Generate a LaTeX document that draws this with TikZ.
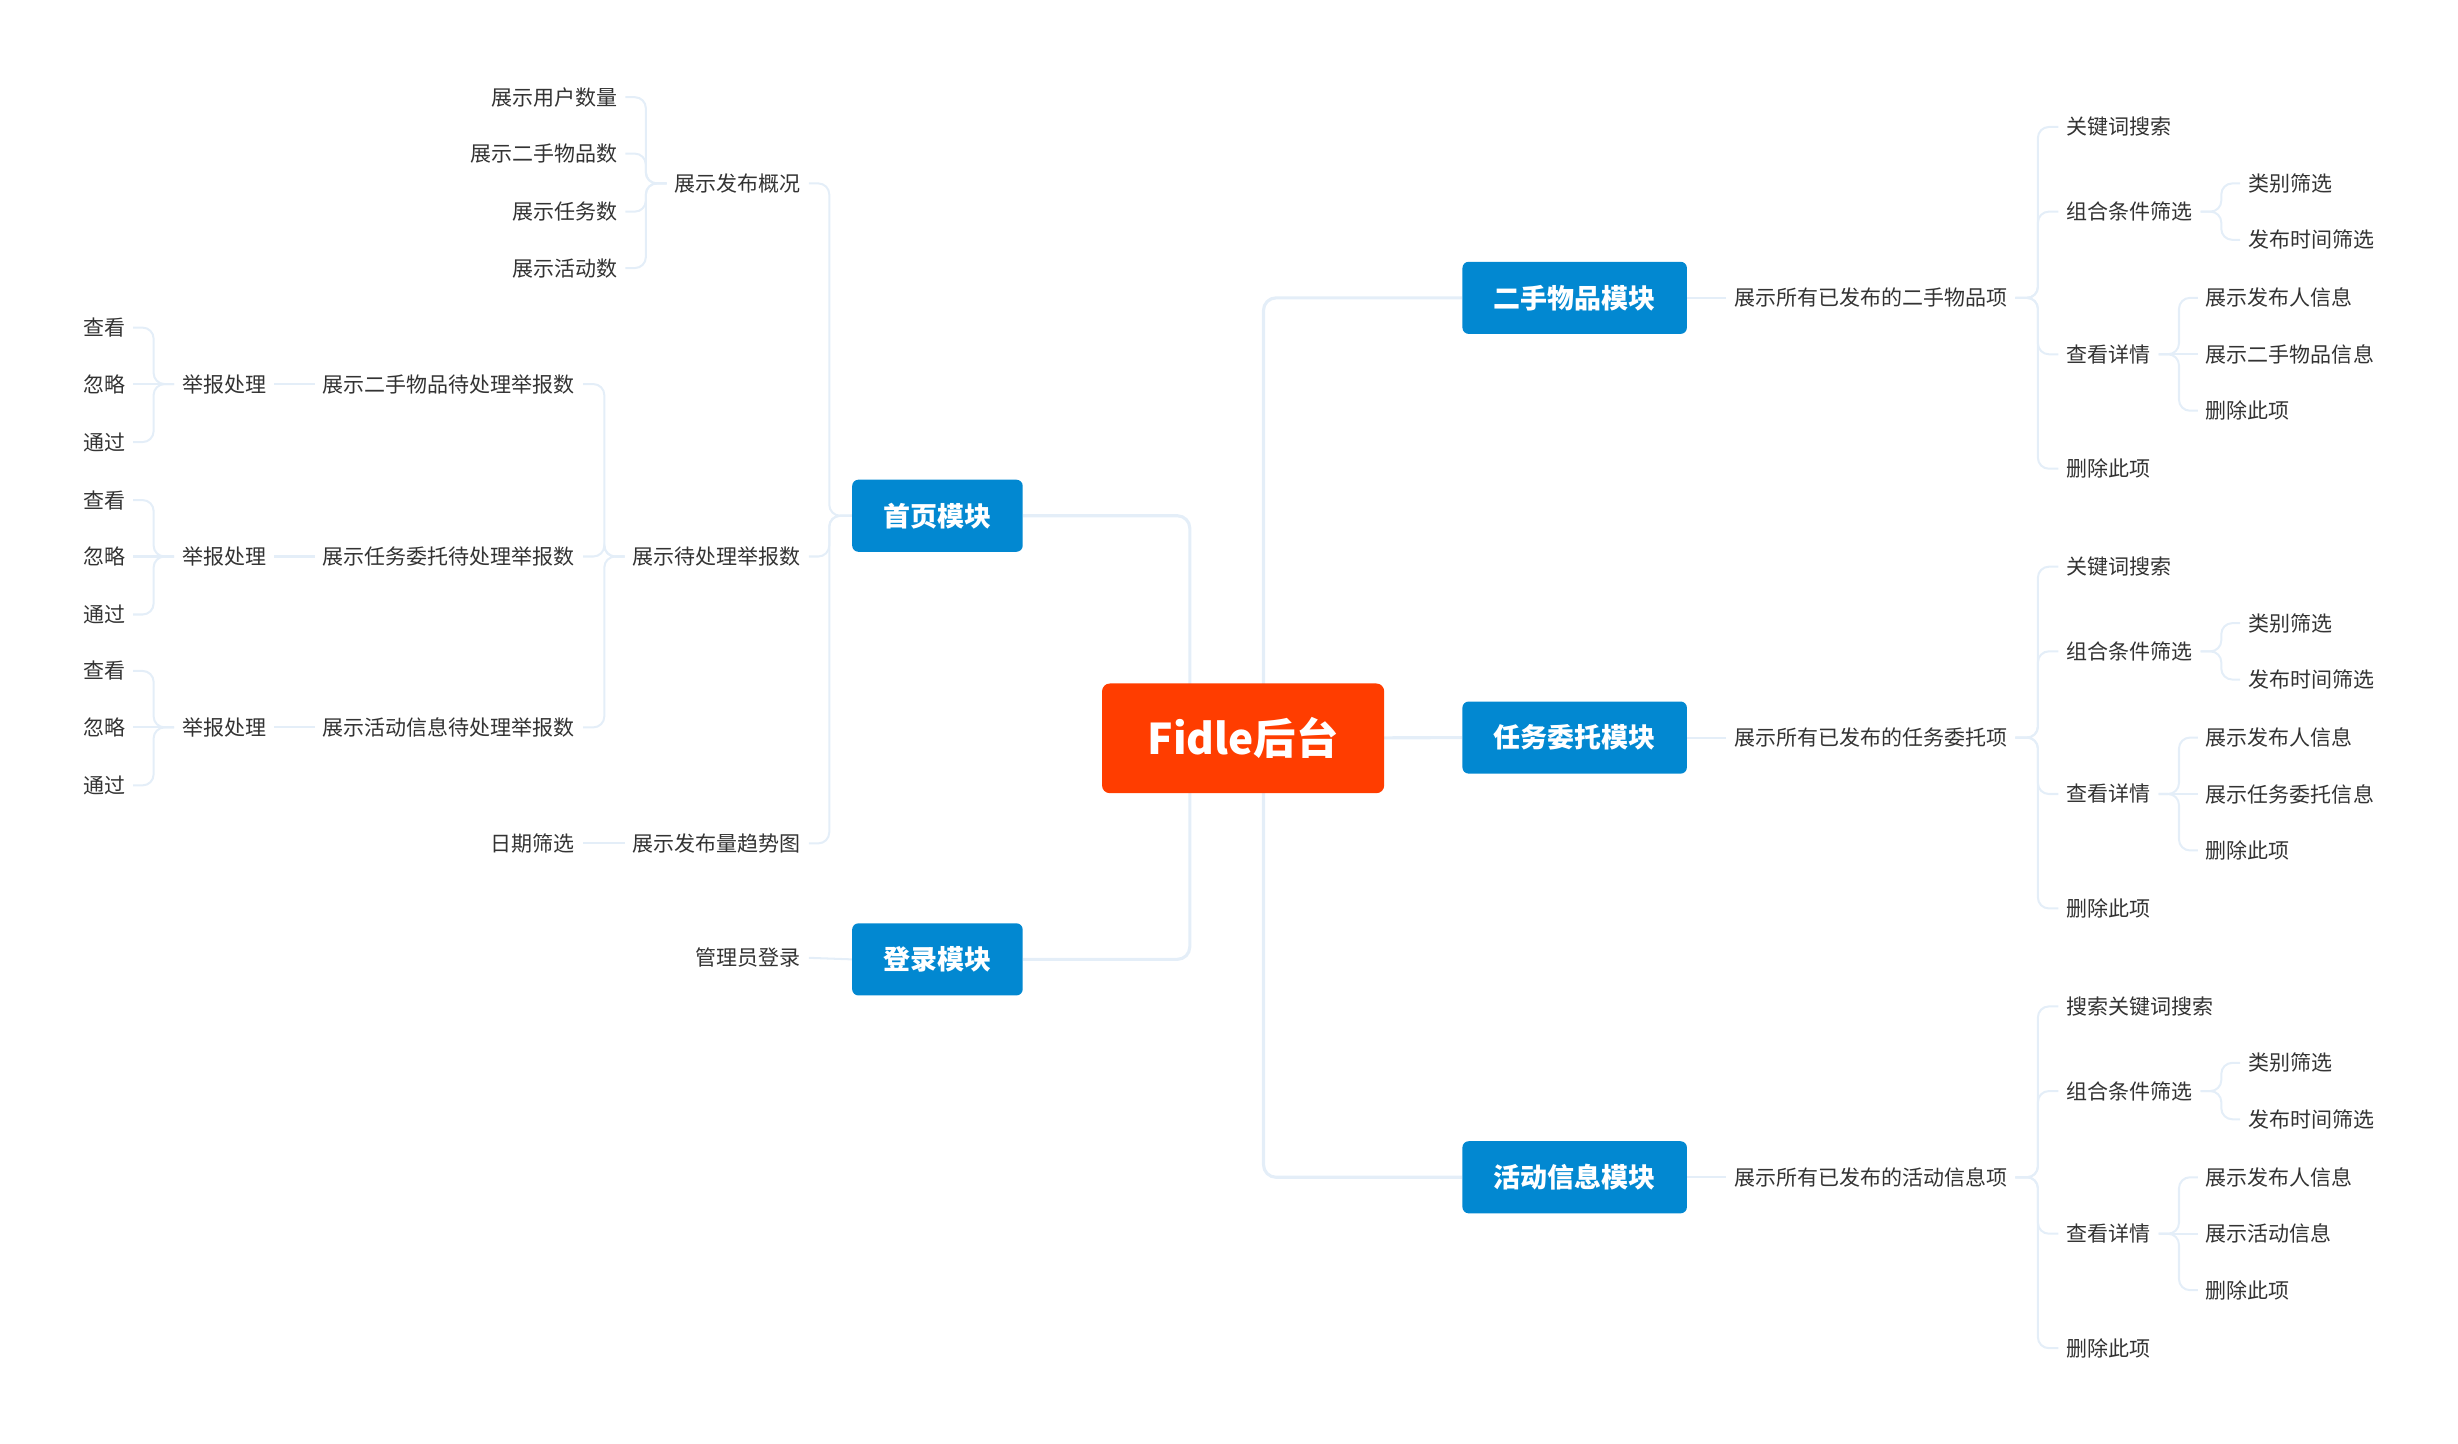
\documentclass[tikz,border=0pt]{standalone}
\usepackage{fontspec}
\setmainfont{Noto Sans CJK SC}
\usetikzlibrary{calc}
\pgfdeclarelayer{bg}
\pgfsetlayers{bg,main}
\definecolor{rootc}{HTML}{FF3D00}
\definecolor{modc}{HTML}{0288D1}
\definecolor{linec}{HTML}{E4EEF8}
\definecolor{txtc}{HTML}{333333}
\tikzset{
 lbl/.style={inner xsep=5pt, inner ysep=2pt, text=txtc, font=\fontsize{13.4}{16}\selectfont},
 lw/.style={lbl, anchor=west},
 le/.style={lbl, anchor=east},
 modbox/.style={fill=modc, rounded corners=4pt, text=white, font=\fontsize{17.2}{20}\selectfont\bfseries, inner xsep=20pt, minimum height=46pt},
 rootbox/.style={fill=rootc, rounded corners=5pt, text=white, font=\fontsize{27}{30}\selectfont\bfseries, minimum width=180pt, minimum height=70pt},
 mainlink/.style={draw=linec, line width=2pt, rounded corners=8pt},
 sublink/.style={draw=linec, line width=1.3pt, rounded corners=7pt},
}
\newcommand\rblock[5]{%
 \node[lw] (#1p) at (1101,#2) {#3};
 \node[lw] (#1a) at (1313,#2-109) {#4};
 \node[lw] (#1b) at (1313,#2-55) {组合条件筛选};
 \node[lw] (#1b1) at (1429,#2-73) {类别筛选};
 \node[lw] (#1b2) at (1429,#2-37) {发布时间筛选};
 \node[lw] (#1c) at (1313,#2+36) {查看详情};
 \node[lw] (#1c1) at (1402,#2) {展示发布人信息};
 \node[lw] (#1c2) at (1402,#2+36) {#5};
 \node[lw] (#1c3) at (1402,#2+72) {删除此项};
 \node[lw] (#1d) at (1313,#2+109) {删除此项};
 \begin{pgfonlayer}{bg}
 \draw[sublink] (#1.east) -- (#1p.west);
 \draw[sublink] (#1p.east) -- (1300,#2) |- (#1a.west);
 \draw[sublink] (#1p.east) -- (1300,#2) |- (#1b.west);
 \draw[sublink] (#1p.east) -- (1300,#2) |- (#1c.west);
 \draw[sublink] (#1p.east) -- (1300,#2) |- (#1d.west);
 \draw[sublink] (#1b.east) -- (1417,#2-55) |- (#1b1.west);
 \draw[sublink] (#1b.east) -- (1417,#2-55) |- (#1b2.west);
 \draw[sublink] (#1c.east) -- (1390,#2+36) |- (#1c1.west);
 \draw[sublink] (#1c.east) -- (#1c2.west);
 \draw[sublink] (#1c.east) -- (1390,#2+36) |- (#1c3.west);
 \end{pgfonlayer}
}
\newcommand\lrep[3]{%
 \node[le] (#1) at (372,#2) {#3};
 \node[le] (#1j) at (175,#2) {举报处理};
 \node[le] (#1a) at (85,#2-36) {查看};
 \node[le] (#1b) at (85,#2) {忽略};
 \node[le] (#1c) at (85,#2+37) {通过};
 \begin{pgfonlayer}{bg}
 \draw[sublink] (hp2.west) -- (385.5,355) |- (#1.east);
 \draw[sublink] (#1.west) -- (#1j.east);
 \draw[sublink] (#1j.west) -- (98,#2) |- (#1a.east);
 \draw[sublink] (#1j.west) -- (#1b.east);
 \draw[sublink] (#1j.west) -- (98,#2) |- (#1c.east);
 \end{pgfonlayer}
}
\begin{document}
\begin{tikzpicture}[x=1pt,y=-1pt]
\useasboundingbox (0,0) rectangle (1568,921);
% root and modules
\node[rootbox] (root) at (793,471) {Fidle后台};
\node[modbox] (m1) at (1004.5,190) {二手物品模块};
\node[modbox] (m2) at (1004.5,470.5) {任务委托模块};
\node[modbox] (m3) at (1004.5,751) {活动信息模块};
\node[modbox] (mh) at (598,329) {首页模块};
\node[modbox] (ml) at (598,612) {登录模块};
\begin{pgfonlayer}{bg}
\draw[mainlink] (root.center) -- (759,471) |- (mh.east);
\draw[mainlink] (root.center) -- (759,471) |- (ml.east);
\draw[mainlink] (root.center) -- (806,471) |- (m1.west);
\draw[mainlink] (root.center) -- (806,471) |- (m3.west);
\draw[mainlink] (root.center) -- (m2.west);
\end{pgfonlayer}
% right blocks
\rblock{m1}{190}{展示所有已发布的二手物品项}{关键词搜索}{展示二手物品信息}
\rblock{m2}{470.5}{展示所有已发布的任务委托项}{关键词搜索}{展示任务委托信息}
\rblock{m3}{751}{展示所有已发布的活动信息项}{搜索关键词搜索}{展示活动信息}
% home module
\node[le] (hp1) at (516,117) {展示发布概况};
\node[le] (hp2) at (516,355) {展示待处理举报数};
\node[le] (hp3) at (516,538) {展示发布量趋势图};
\node[le] (h11) at (399,62) {展示用户数量};
\node[le] (h12) at (399,98) {展示二手物品数};
\node[le] (h13) at (399,135) {展示任务数};
\node[le] (h14) at (399,171) {展示活动数};
\node[le] (h31) at (372,538) {日期筛选};
\node[le] (l1) at (516,611) {管理员登录};
\begin{pgfonlayer}{bg}
\draw[sublink] (mh.west) -- (529,329) |- (hp1.east);
\draw[sublink] (mh.west) -- (529,329) |- (hp2.east);
\draw[sublink] (mh.west) -- (529,329) |- (hp3.east);
\draw[sublink] (hp1.west) -- (412,117) |- (h11.east);
\draw[sublink] (hp1.west) -- (412,117) |- (h12.east);
\draw[sublink] (hp1.west) -- (412,117) |- (h13.east);
\draw[sublink] (hp1.west) -- (412,117) |- (h14.east);
\draw[sublink] (hp3.west) -- (h31.east);
\draw[sublink] (ml.west) -- (l1.east);
\end{pgfonlayer}
\lrep{r1}{245}{展示二手物品待处理举报数}
\lrep{r2}{355}{展示任务委托待处理举报数}
\lrep{r3}{464}{展示活动信息待处理举报数}
\end{tikzpicture}
\end{document}
